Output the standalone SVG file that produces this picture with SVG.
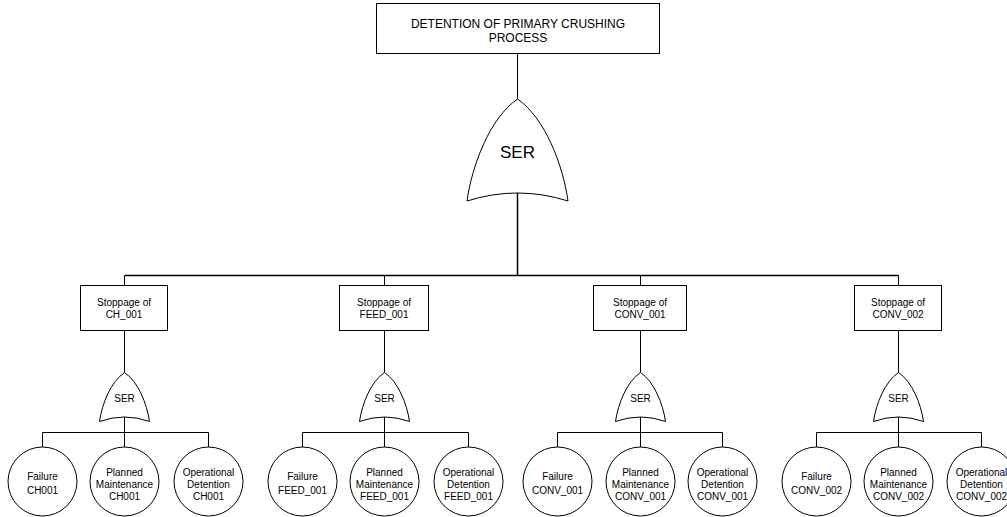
<svg xmlns="http://www.w3.org/2000/svg" width="1007" height="517" viewBox="0 0 1007 517">
<style>
.box{fill:#fff;stroke:#000;stroke-width:1}
.gate{fill:#fff;stroke:#000;stroke-width:1}
.ev{fill:#fff;stroke:#000;stroke-width:1}
.ln{fill:none;stroke:#000;stroke-width:1}
.trunk{fill:none;stroke:#000;stroke-width:1.5}
text{font-family:"Liberation Sans",Arial,sans-serif;fill:#000;text-anchor:middle}
.t12{font-size:12px}
.t10{font-size:10px}
.g17{font-size:17px}
</style>
<rect width="1007" height="517" fill="#fff"/>
<g id="connectors">
<path class="ln" d="M517.5,53.5 V99"/>
<path class="trunk" d="M517.5,193 V275.5"/>
<path class="trunk" d="M124.5,275.5 H898.5"/>
<path class="ln" d="M124.5,275.5 V285.5 M384.5,275.5 V285.5 M640.5,275.5 V285.5 M898.5,275.5 V285.5"/>
<path class="ln" d="M124.5,330.5 V372.5 M384.5,330.5 V372.5 M640.5,330.5 V372.5 M898.5,330.5 V372.5"/>
<path class="ln" d="M124.5,417 V432.5 M42.5,432.5 H208.5 M42.5,432.5 V447 M124.5,432.5 V447 M208.5,432.5 V447"/>
<path class="ln" d="M384.5,417 V432.5 M302.5,432.5 H468.5 M302.5,432.5 V447 M384.5,432.5 V447 M468.5,432.5 V447"/>
<path class="ln" d="M640.5,417 V432.5 M557.5,432.5 H722.5 M557.5,432.5 V447 M640.5,432.5 V447 M722.5,432.5 V447"/>
<path class="ln" d="M898.5,417 V432.5 M816.5,432.5 H981.5 M816.5,432.5 V447 M898.5,432.5 V447 M981.5,432.5 V447"/>
</g>
<g id="top">
<rect class="box" x="376.5" y="3.5" width="283" height="50"/>
<text class="t12" x="518" y="27.5">DETENTION OF PRIMARY CRUSHING</text>
<text class="t12" x="518" y="41.5">PROCESS</text>
</g>
<g id="gate-main">
<path class="gate" d="M467,201 C472,165 490,118 517.5,99 C545,118 563,165 568,201 Q517.5,185 467,201 Z"/>
<text class="g17" x="517.5" y="158">SER</text>
</g>
<g id="stop-ch001">
<rect class="box" x="80.5" y="285.5" width="87" height="45"/>
<text class="t10" x="124" y="305.5">Stoppage of</text>
<text class="t10" x="124" y="317.5">CH_001</text>
</g>
<g id="stop-feed001">
<rect class="box" x="339.5" y="285.5" width="89" height="45"/>
<text class="t10" x="384" y="305.5">Stoppage of</text>
<text class="t10" x="384" y="317.5">FEED_001</text>
</g>
<g id="stop-conv001">
<rect class="box" x="593.5" y="285.5" width="93" height="45"/>
<text class="t10" x="640" y="305.5">Stoppage of</text>
<text class="t10" x="640" y="317.5">CONV_001</text>
</g>
<g id="stop-conv002">
<rect class="box" x="854.5" y="285.5" width="87" height="45"/>
<text class="t10" x="898" y="305.5">Stoppage of</text>
<text class="t10" x="898" y="317.5">CONV_002</text>
</g>
<g id="gate-ch001">
<path class="gate" d="M99.5,421.5 C102,404 110.8,381.6 124.5,372.5 C138.2,381.6 147,404 149.5,421.5 Q124.5,412.5 99.5,421.5 Z"/>
<text class="t10" x="124.5" y="401.5">SER</text>
</g>
<g id="gate-feed001">
<path class="gate" d="M359.5,421.5 C362,404 370.8,381.6 384.5,372.5 C398.2,381.6 407,404 409.5,421.5 Q384.5,412.5 359.5,421.5 Z"/>
<text class="t10" x="384.5" y="401.5">SER</text>
</g>
<g id="gate-conv001">
<path class="gate" d="M615.5,421.5 C618,404 626.8,381.6 640.5,372.5 C654.2,381.6 663,404 665.5,421.5 Q640.5,412.5 615.5,421.5 Z"/>
<text class="t10" x="640.5" y="401.5">SER</text>
</g>
<g id="gate-conv002">
<path class="gate" d="M873.5,421.5 C876,404 884.8,381.6 898.5,372.5 C912.2,381.6 921,404 923.5,421.5 Q898.5,412.5 873.5,421.5 Z"/>
<text class="t10" x="898.5" y="401.5">SER</text>
</g>
<g id="fail-ch001"><circle class="ev" cx="42.5" cy="481.5" r="34.5"/><text class="t10" x="42.5" y="480">Failure</text><text class="t10" x="42.5" y="494">CH001</text></g>
<g id="pm-ch001"><circle class="ev" cx="124.5" cy="481.5" r="34.5"/><text class="t10" x="124.5" y="476">Planned</text><text class="t10" x="124.5" y="488">Maintenance</text><text class="t10" x="124.5" y="500">CH001</text></g>
<g id="od-ch001"><circle class="ev" cx="208.5" cy="481.5" r="34.5"/><text class="t10" x="208.5" y="476">Operational</text><text class="t10" x="208.5" y="488">Detention</text><text class="t10" x="208.5" y="500">CH001</text></g>
<g id="fail-feed001"><circle class="ev" cx="302.5" cy="481.5" r="34.5"/><text class="t10" x="302.5" y="480">Failure</text><text class="t10" x="302.5" y="494">FEED_001</text></g>
<g id="pm-feed001"><circle class="ev" cx="384.5" cy="481.5" r="34.5"/><text class="t10" x="384.5" y="476">Planned</text><text class="t10" x="384.5" y="488">Maintenance</text><text class="t10" x="384.5" y="500">FEED_001</text></g>
<g id="od-feed001"><circle class="ev" cx="468.5" cy="481.5" r="34.5"/><text class="t10" x="468.5" y="476">Operational</text><text class="t10" x="468.5" y="488">Detention</text><text class="t10" x="468.5" y="500">FEED_001</text></g>
<g id="fail-conv001"><circle class="ev" cx="557.5" cy="481.5" r="34.5"/><text class="t10" x="557.5" y="480">Failure</text><text class="t10" x="557.5" y="494">CONV_001</text></g>
<g id="pm-conv001"><circle class="ev" cx="640.5" cy="481.5" r="34.5"/><text class="t10" x="640.5" y="476">Planned</text><text class="t10" x="640.5" y="488">Maintenance</text><text class="t10" x="640.5" y="500">CONV_001</text></g>
<g id="od-conv001"><circle class="ev" cx="722.5" cy="481.5" r="34.5"/><text class="t10" x="722.5" y="476">Operational</text><text class="t10" x="722.5" y="488">Detention</text><text class="t10" x="722.5" y="500">CONV_001</text></g>
<g id="fail-conv002"><circle class="ev" cx="816.5" cy="481.5" r="34.5"/><text class="t10" x="816.5" y="480">Failure</text><text class="t10" x="816.5" y="494">CONV_002</text></g>
<g id="pm-conv002"><circle class="ev" cx="898.5" cy="481.5" r="34.5"/><text class="t10" x="898.5" y="476">Planned</text><text class="t10" x="898.5" y="488">Maintenance</text><text class="t10" x="898.5" y="500">CONV_002</text></g>
<g id="od-conv002"><circle class="ev" cx="981.5" cy="481.5" r="34.5"/><text class="t10" x="981.5" y="476">Operational</text><text class="t10" x="981.5" y="488">Detention</text><text class="t10" x="981.5" y="500">CONV_002</text></g>
</svg>
